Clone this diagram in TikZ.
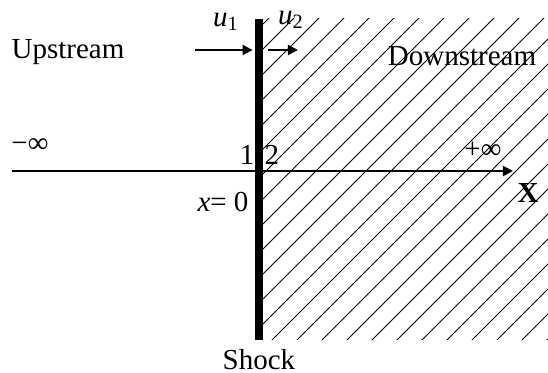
\documentclass[tikz,border=0pt]{standalone}
\usepackage{fontspec}
\setmainfont{Liberation Serif}
\usetikzlibrary{arrows.meta, positioning}

\begin{document}
\begin{tikzpicture}[x=0.5pt,y=-0.5pt,font=\fontsize{14.5}{17}\selectfont,
		pfeil/.style={-{Triangle[length=5pt,width=5pt]}, line width=1pt},
		schraffur/.style={line width=0.45pt}]
			\useasboundingbox (0,0) rectangle (548,373);
			
			% Schraffur stromab
			\begin{scope}
				\clip (263,19) rectangle (548,340);
				\foreach \k in {-14,...,12} {
					\draw[schraffur] (267+25*\k,345) -- ++(340,-340);
				}
			\end{scope}
			
			% Stoss
			\node[fill=black, inner sep=0pt, minimum width=4pt, minimum height=160.5pt] (stoss) at (259,179.5) {};
			\node[below=1pt of stoss] (shock) {Shock};
			
			% Achse
			\coordinate (links) at (12,171);
			\coordinate (rechts) at (513,171);
			\draw[pfeil] (links) -- (rechts);
			
			% Geschwindigkeiten
			\coordinate (a1) at (195,50);
			\coordinate (a2) at (268,50);
			\draw[pfeil] (a1) -- ([xshift=-1pt]stoss.west |- a1);
			\draw[pfeil] (a2) -- ++(30,0);
			\node (u1) at (226,22) {\textit{u}\textsubscript{1}};
			\node (u2) at (291,20) {\textit{u}\textsubscript{2}};
			
			% Beschriftung
			\node (up) at (68,52) {Upstream};
			\node (down) at (462,56) {Downstream};
			\node (minf) at (30,146) {−∞};
			\node (pinf) at (483,150) {+∞};
			\node (eins) at (247,155) {1};
			\node (zwei) at (272,155) {2};
			\node (null) at (223,202) {\textit{x}= 0};
			\node (X) at (528,193) {\textbf{X}};
		\end{tikzpicture}
\end{document}
